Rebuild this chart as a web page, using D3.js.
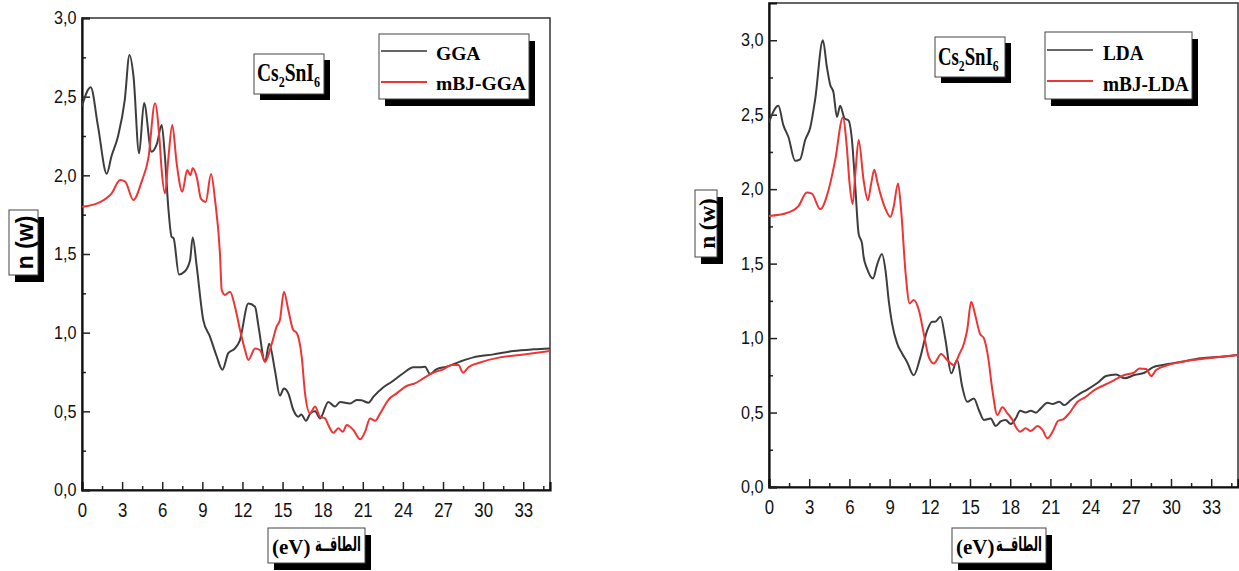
<!DOCTYPE html>
<html>
<head>
<meta charset="utf-8">
<script src="https://cdn.jsdelivr.net/npm/d3@7"></script>
<style>
  body { margin: 0; background: #fff; }
  svg { display: block; }
</style>
</head>
<body>
<svg id="chart" width="1239" height="571"></svg>
<script>
// GGA / mBJ-GGA (left panel)
const ggaE = [0, 0.65, 1.2, 1.85, 2.2, 2.7, 3.2, 3.55, 3.85, 4.27, 4.64, 5.2, 5.6, 5.96, 6.2, 6.45, 6.7, 6.85, 7.25, 7.7, 8.08, 8.28, 8.58, 9.07, 9.57, 10.07, 10.5, 10.94, 11.44, 11.8, 12.44, 12.94, 13.2, 13.69, 14.0, 14.43, 14.8, 15.1, 15.43, 15.8, 16.18, 16.4, 16.75, 17.1, 17.43, 17.8, 18.42, 18.92, 19.3, 20.04, 20.55, 20.9, 21.42, 21.8, 22.54, 23.17, 24.03, 24.78, 25.28, 25.65, 26.03, 26.5, 27.27, 28.27, 29.27, 30.77, 32.27, 33.76, 35];
const ggaN = [2.44, 2.56, 2.31, 2.01, 2.12, 2.25, 2.48, 2.765, 2.63, 2.14, 2.46, 2.15, 2.2, 2.32, 2.12, 1.8, 1.61, 1.6, 1.37, 1.39, 1.46, 1.605, 1.42, 1.08, 0.975, 0.85, 0.765, 0.87, 0.9, 0.95, 1.185, 1.165, 1.04, 0.815, 0.93, 0.76, 0.6, 0.645, 0.614, 0.51, 0.466, 0.48, 0.44, 0.49, 0.5, 0.455, 0.56, 0.53, 0.56, 0.55, 0.572, 0.57, 0.555, 0.593, 0.653, 0.688, 0.742, 0.78, 0.78, 0.784, 0.737, 0.767, 0.784, 0.816, 0.843, 0.862, 0.883, 0.894, 0.9];

const mbjGgaE = [0, 1.35, 2.22, 2.85, 3.23, 3.84, 4.46, 4.96, 5.46, 5.8, 5.96, 6.21, 6.46, 6.75, 7.08, 7.5, 7.87, 8.1, 8.28, 8.58, 8.9, 9.25, 9.65, 9.95, 10.32, 10.45, 10.69, 11.07, 11.44, 11.82, 12.19, 12.44, 12.94, 13.31, 13.69, 14.19, 14.56, 14.8, 15.1, 15.43, 15.8, 16.05, 16.43, 16.68, 17.05, 17.43, 17.8, 18.18, 18.42, 18.8, 19.17, 19.5, 19.8, 20.3, 20.8, 21.17, 21.54, 21.92, 22.3, 22.9, 23.53, 24.28, 24.9, 25.53, 26.28, 27.02, 27.65, 28.15, 28.5, 28.9, 29.77, 31.26, 32.76, 35];
const mbjGgaN = [1.8, 1.83, 1.886, 1.97, 1.96, 1.843, 1.96, 2.108, 2.458, 2.225, 2.03, 1.886, 2.11, 2.32, 2.076, 1.896, 2.034, 2.0, 2.045, 1.99, 1.85, 1.83, 2.008, 1.843, 1.5, 1.27, 1.24, 1.26, 1.165, 1.017, 0.89, 0.826, 0.9, 0.89, 0.815, 0.93, 1.04, 1.08, 1.26, 1.144, 1.017, 1.0, 0.847, 0.614, 0.487, 0.53, 0.466, 0.455, 0.413, 0.364, 0.392, 0.37, 0.413, 0.381, 0.322, 0.37, 0.455, 0.44, 0.487, 0.572, 0.614, 0.661, 0.678, 0.71, 0.746, 0.767, 0.794, 0.794, 0.746, 0.78, 0.81, 0.843, 0.858, 0.883];

// LDA / mBJ-LDA (right panel)
const ldaE = [0, 0.7, 1.07, 1.45, 1.95, 2.32, 2.7, 3.07, 3.44, 4.02, 4.32, 4.57, 4.81, 5.07, 5.31, 5.64, 5.94, 6.19, 6.44, 6.69, 6.94, 7.06, 7.31, 7.76, 8.06, 8.43, 8.7, 8.93, 9.18, 9.56, 9.93, 10.3, 10.8, 11.3, 11.8, 12.18, 12.4, 12.8, 13.17, 13.6, 14.04, 14.42, 14.79, 15.29, 15.66, 16.04, 16.54, 16.92, 17.29, 17.66, 18.04, 18.41, 18.74, 19.16, 19.54, 19.91, 20.28, 20.78, 21.16, 21.66, 22.03, 22.53, 23.15, 23.78, 24.53, 25.15, 25.9, 26.52, 27.27, 28.02, 28.64, 29.39, 30.76, 32.26, 33.76, 35];
const ldaN = [2.45, 2.56, 2.43, 2.35, 2.19, 2.2, 2.33, 2.41, 2.6, 3.0, 2.82, 2.7, 2.65, 2.485, 2.56, 2.475, 2.46, 2.33, 2.015, 1.7, 1.636, 1.546, 1.468, 1.4, 1.49, 1.564, 1.45, 1.255, 1.1, 0.964, 0.897, 0.84, 0.75, 0.874, 1.05, 1.11, 1.11, 1.143, 0.987, 0.763, 0.852, 0.673, 0.572, 0.595, 0.517, 0.45, 0.46, 0.41, 0.44, 0.45, 0.423, 0.46, 0.512, 0.5, 0.512, 0.499, 0.528, 0.566, 0.557, 0.572, 0.55, 0.584, 0.624, 0.656, 0.7, 0.745, 0.756, 0.73, 0.752, 0.767, 0.803, 0.819, 0.841, 0.864, 0.875, 0.886];

const mbjLdaE = [0, 1.32, 2.2, 2.82, 3.2, 3.82, 4.44, 4.94, 5.51, 5.81, 6.0, 6.24, 6.44, 6.69, 7.06, 7.38, 7.63, 7.86, 8.08, 8.31, 8.68, 9.06, 9.3, 9.63, 9.88, 10.18, 10.5, 10.8, 11.18, 11.55, 11.92, 12.3, 12.85, 13.3, 13.8, 14.17, 14.55, 14.79, 15.09, 15.42, 15.74, 16.04, 16.35, 16.67, 17.04, 17.42, 17.79, 18.17, 18.41, 18.74, 19.16, 19.54, 20.04, 20.41, 20.78, 21.16, 21.58, 21.98, 22.4, 23.03, 23.65, 24.28, 25.03, 25.77, 26.52, 27.22, 27.64, 28.14, 28.52, 28.89, 29.77, 31.26, 32.76, 35];
const mbjLdaN = [1.82, 1.84, 1.886, 1.978, 1.97, 1.866, 1.993, 2.195, 2.48, 2.28, 2.05, 1.9, 2.1, 2.33, 2.06, 1.926, 2.04, 2.13, 2.05, 1.97, 1.87, 1.814, 1.88, 2.038, 1.837, 1.45, 1.233, 1.255, 1.188, 1.03, 0.874, 0.83, 0.893, 0.852, 0.819, 0.886, 0.964, 1.054, 1.244, 1.143, 1.03, 0.998, 0.874, 0.651, 0.483, 0.535, 0.495, 0.45, 0.405, 0.371, 0.394, 0.376, 0.409, 0.383, 0.327, 0.371, 0.445, 0.456, 0.495, 0.572, 0.606, 0.651, 0.685, 0.718, 0.752, 0.767, 0.796, 0.792, 0.745, 0.785, 0.819, 0.848, 0.864, 0.886];

const xTicks = [0, 3, 6, 9, 12, 15, 18, 21, 24, 27, 30, 33];
const xMinor = [1.5, 4.5, 7.5, 10.5, 13.5, 16.5, 19.5, 22.5, 25.5, 28.5, 31.5, 34.5];
const yTicks = [0, 0.5, 1.0, 1.5, 2.0, 2.5, 3.0];
const yMinor = [0.25, 0.75, 1.25, 1.75, 2.25, 2.75];

const dark = "#3d3d3d", red = "#ee3535";
const serif = "'Liberation Serif', 'Times New Roman', serif";
const sans = "'Liberation Sans', Arial, sans-serif";

const svg = d3.select("#chart");
const fmt = d => d3.format(".1f")(d).replace(".", ",");

// white box with black drop shadow
function shadowBox(g, x, y, w, h, dx, dy) {
  g.append("rect").attr("x", x + dx).attr("y", y + dy).attr("width", w).attr("height", h).attr("fill", "#000");
  g.append("rect").attr("x", x).attr("y", y).attr("width", w).attr("height", h)
    .attr("fill", "#fff").attr("stroke", "#444").attr("stroke-width", 1);
}

function drawPanel(p) {
  const g = svg.append("g");
  const x = d3.scaleLinear().domain([0, 35]).range([p.left, p.right]);
  const y = d3.scaleLinear().domain([0, p.yMax]).range([p.bottom, p.top]);

  g.append("rect")
    .attr("x", p.left).attr("y", p.top)
    .attr("width", p.right - p.left).attr("height", p.bottom - p.top)
    .attr("fill", "none").attr("stroke", "#333").attr("stroke-width", 1.5);

  // minor ticks
  const gxm = g.append("g").attr("transform", `translate(0,${p.bottom})`)
    .call(d3.axisBottom(x).tickValues(xMinor).tickSize(-4).tickFormat(""));
  const gym = g.append("g").attr("transform", `translate(${p.left},0)`)
    .call(d3.axisLeft(y).tickValues(yMinor).tickSize(-4).tickFormat(""));
  [gxm, gym].forEach(a => {
    a.select(".domain").remove();
    a.selectAll("line").attr("stroke", "#222").attr("stroke-width", 1.5);
  });

  const gx = g.append("g").attr("transform", `translate(0,${p.bottom})`)
    .call(d3.axisBottom(x).tickValues(xTicks).tickSize(-8).tickPadding(12).tickFormat(d3.format("d")));
  const gy = g.append("g").attr("transform", `translate(${p.left},0)`)
    .call(d3.axisLeft(y).tickValues(yTicks).tickSize(-8).tickPadding(6).tickFormat(fmt));
  [gx, gy].forEach(a => {
    a.select(".domain").attr("stroke", "#111").attr("stroke-width", 2.2);
    a.selectAll("line").attr("stroke", "#222").attr("stroke-width", 1.5);
    a.selectAll("text").attr("fill", "#111").attr("font-family", sans);
  });
  gx.selectAll("text").attr("font-size", 21).attr("transform", "scale(0.8,1)");
  gy.selectAll("text").attr("font-size", 18).attr("transform", "scale(0.9,1)");

  // curves
  const clipId = "clip" + p.id;
  g.append("clipPath").attr("id", clipId).append("rect")
    .attr("x", p.left).attr("y", p.top).attr("width", p.right - p.left).attr("height", p.bottom - p.top);
  const line = d3.line().x(d => x(d[0])).y(d => y(d[1])).curve(d3.curveMonotoneX);
  p.series.forEach(s => {
    g.append("path")
      .datum(d3.zip(s.e, s.n))
      .attr("clip-path", `url(#${clipId})`)
      .attr("d", line)
      .attr("fill", "none")
      .attr("stroke", s.color)
      .attr("stroke-width", 2)
      .attr("stroke-linejoin", "round");
  });

  // compound label
  const c = p.compound;
  shadowBox(g, c.x, c.y, c.w, c.h, 6, 6);
  const ct = g.append("text")
    .attr("transform", `translate(${c.tx},${c.ty}) scale(${c.sx},1)`)
    .attr("font-family", serif).attr("font-weight", "bold").attr("font-size", c.fs).attr("fill", "#000");
  ct.append("tspan").text("Cs");
  ct.append("tspan").text("2").attr("font-size", c.fs * 0.62).attr("dy", 6);
  ct.append("tspan").text("SnI").attr("dy", -6);
  ct.append("tspan").text("6").attr("font-size", c.fs * 0.62).attr("dy", 6);

  // legend
  const L = p.legend;
  shadowBox(g, L.x, L.y, L.w, L.h, 6, 7);
  p.series.forEach((s, i) => {
    const ly = L.rows[i];
    g.append("line").attr("x1", L.x + 2).attr("x2", L.x + 48).attr("y1", ly).attr("y2", ly)
      .attr("stroke", i === 0 ? "#666" : red).attr("stroke-width", 2);
    g.append("text")
      .attr("transform", `translate(${L.tx},${L.base[i]}) scale(${L.sx},1)`)
      .attr("font-family", serif).attr("font-weight", "bold").attr("font-size", L.fs)
      .attr("fill", "#000").text(s.name);
  });

  // y axis title
  const Y = p.yTitle;
  shadowBox(g, Y.x, Y.y, Y.w, Y.h, 6, 7);
  g.append("text")
    .attr("transform", `translate(${Y.x + Y.w / 2 + 1},${Y.y + Y.h / 2}) rotate(-90)`)
    .attr("text-anchor", "middle").attr("dy", "0.36em")
    .attr("font-family", Y.font).attr("font-weight", "bold").attr("font-size", Y.fs)
    .attr("fill", "#000").text("n (w)");

  // x axis title: "(eV)" on the left, Arabic word on the right
  const X = p.xTitle;
  shadowBox(g, X.x, X.y, X.w, X.h, 6, 7);
  g.append("text")
    .attr("x", X.x + 4).attr("y", X.y + X.h - 9)
    .attr("font-family", serif).attr("font-weight", "bold").attr("font-size", 21)
    .attr("fill", "#000").text("(eV)");
  g.append("text")
    .attr("x", X.x + X.w - 4).attr("y", X.y + X.h - 12)
    .attr("direction", "rtl").attr("text-anchor", "start")
    .attr("font-family", "'DejaVu Sans', 'Noto Sans', sans-serif").attr("font-weight", "bold")
    .attr("font-size", 20).attr("textLength", 46).attr("lengthAdjust", "spacingAndGlyphs")
    .attr("fill", "#000").text("الطاقــة");
}

drawPanel({
  id: "L", left: 82, right: 550, top: 18, bottom: 490, yMax: 3,
  series: [
    { name: "GGA", e: ggaE, n: ggaN, color: dark },
    { name: "mBJ-GGA", e: mbjGgaE, n: mbjGgaN, color: red }
  ],
  compound: { x: 254, y: 54, w: 70, h: 40, tx: 257, ty: 81, fs: 25, sx: 0.78 },
  legend: { x: 379, y: 34, w: 150, h: 65, rows: [51, 82], tx: 436, base: [60, 90], fs: 19.5, sx: 1 },
  yTitle: { x: 9, y: 210, w: 29, h: 65, fs: 23, font: sans },
  xTitle: { x: 268, y: 528, w: 97, h: 35 }
});

drawPanel({
  id: "R", left: 769, right: 1238, top: 3, bottom: 487, yMax: 3.25,
  series: [
    { name: "LDA", e: ldaE, n: ldaN, color: dark },
    { name: "mBJ-LDA", e: mbjLdaE, n: mbjLdaN, color: red }
  ],
  compound: { x: 935, y: 37, w: 70, h: 40, tx: 938, ty: 65, fs: 25, sx: 0.75 },
  legend: { x: 1045, y: 32, w: 147, h: 67, rows: [50, 81], tx: 1103, base: [60, 91], fs: 21, sx: 0.92 },
  yTitle: { x: 695, y: 190, w: 22, h: 67, fs: 23, font: serif },
  xTitle: { x: 952, y: 528, w: 94, h: 35 }
});
</script>
</body>
</html>
